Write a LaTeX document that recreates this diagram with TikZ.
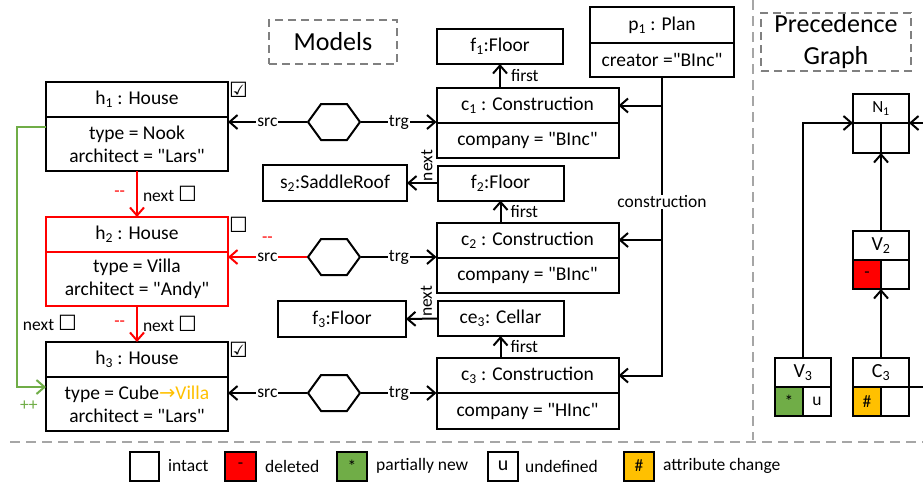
\documentclass[tikz,border=0pt]{standalone}
\usepackage{fontspec}
\setmainfont{Carlito}[Ligatures=TeXOff]
\newfontfamily\symf{DejaVu Sans}
\usetikzlibrary{positioning, shapes.symbols, arrows.meta}
\definecolor{dred}{HTML}{FF0000}
\definecolor{ngreen}{HTML}{70AD47}
\definecolor{chorange}{HTML}{FFC000}
\definecolor{sepgray}{HTML}{A6A6A6}
\definecolor{boxgray}{HTML}{808080}
\newcommand\bxf{\fontsize{19.5pt}{23pt}\selectfont}
\newcommand\lbf{\fontsize{17.5pt}{20pt}\selectfont}
\newcommand\tlf{\fontsize{26pt}{32pt}\selectfont}
\newcommand\pgf{\fontsize{20pt}{22pt}\selectfont}
\newcommand\chk{{\symf\fontsize{21pt}{21pt}\selectfont ☑}}
\newcommand\unchk{{\symf\fontsize{21pt}{21pt}\selectfont ☐}}
\tikzset{%
    cls/.style={draw, line width=2pt, outer sep=0pt, inner sep=0pt, minimum width=182pt, minimum height=35pt, font=\bxf},
    att/.style={cls, minimum height=54pt, align=center},
    obj/.style={cls, minimum width=126pt},
    hexa/.style={draw, line width=2pt, signal, signal to=east and west, signal pointer angle=108, minimum width=52pt, minimum height=36pt, inner sep=0pt},
    lbl/.style={font=\lbf, fill=white, inner sep=1pt},
    arr/.style={line width=2pt, -{Straight Barb[length=8pt,width=14pt]}},
    cell/.style={draw, line width=2pt, outer sep=0pt, inner sep=0pt, minimum width=28pt, minimum height=29pt, font=\lbf},
    ttl/.style={draw=boxgray, line width=1.5pt, dash pattern=on 8pt off 5pt, font=\tlf, align=center, inner sep=0pt},
    sep/.style={draw=sepgray, line width=1.5pt, dash pattern=on 10pt off 6pt}
}
\begin{document}
\begin{tikzpicture}[x=1pt, y=-1pt]
        \useasboundingbox (0,0) rectangle (923,482);

        \node[ttl, minimum width=128pt, minimum height=44pt] (mdl) at (333,42) {Models};
        \node[ttl, minimum width=150pt, minimum height=58pt] (pg) at (836,42) {Precedence\\Graph};

        % houses
        \node[cls] (h1t) at (137,99.5) {h\textsubscript{1} : House};
        \node[att, below=0pt of h1t] (h1a) {type = Nook\\architect = "Lars"};
        \node[cls, draw=dred] (h2t) at (137,234.5) {h\textsubscript{2} : House};
        \node[att, draw=dred, below=0pt of h2t] (h2a) {type = Villa\\architect = "Andy"};
        \node[cls] (h3t) at (137,359.5) {h\textsubscript{3} : House};
        \node[att, below=0pt of h3t] (h3a) {type = Cube{\color{chorange}{\symf →}Villa}\\architect = "Lars"};

        \node[inner sep=0pt] (k1) at (238.5,89.5) {\chk};
        \node[inner sep=0pt] (k2) at (238.5,224.5) {\unchk};
        \node[inner sep=0pt] (k3) at (238.5,349.5) {\chk};

        % constructions
        \node[cls] (c1t) at (527.5,105.5) {c\textsubscript{1} : Construction};
        \node[att, minimum height=35pt, below=0pt of c1t] (c1a) {company = "BInc"};
        \node[cls] (c2t) at (527.5,240) {c\textsubscript{2} : Construction};
        \node[att, minimum height=35pt, below=0pt of c2t] (c2a) {company = "BInc"};
        \node[cls] (c3t) at (527.5,375.5) {c\textsubscript{3} : Construction};
        \node[att, minimum height=36pt, below=0pt of c3t] (c3a) {company = "HInc"};

        \node[cls, minimum width=144pt, minimum height=36pt] (p1t) at (662,25) {p\textsubscript{1} : Plan};
        \node[att, minimum width=144pt, minimum height=34pt, below=0pt of p1t] (p1a) {creator ="BInc"};

        \node[obj] (f1) at (500,46.5) {f\textsubscript{1}:Floor};
        \node[obj] (f2) at (500.5,183) {f\textsubscript{2}:Floor};
        \node[obj] (ce3) at (500.5,318.5) {ce\textsubscript{3}: Cellar};
        \node[obj, minimum width=144pt, minimum height=36pt] (s2) at (335,183) {s\textsubscript{2}:SaddleRoof};
        \node[obj, minimum width=128pt, minimum height=36pt] (f3) at (342,319) {f\textsubscript{3}:Floor};

        % correspondences
        \node[hexa] (x1) at (334,122) {};
        \node[hexa] (x2) at (334,257) {};
        \node[hexa] (x3) at (334,393) {};

        \draw[arr] (x1.west) -- node[lbl]{src} (x1.west -| h1a.east);
        \draw[arr] (x1.east) -- node[lbl]{trg} (x1.east -| c1t.west);
        \draw[arr, draw=dred] (x2.west) -- node[lbl]{src} node[lbl, fill=none, text=dred, above=13pt]{--} (x2.west -| h2a.east);
        \draw[arr] (x2.east) -- node[lbl]{trg} (x2.east -| c2t.west);
        \draw[arr] (x3.west) -- node[lbl]{src} (x3.west -| h3a.east);
        \draw[arr] (x3.east) -- node[lbl]{trg} (x3.east -| c3t.west);

        \draw[arr, draw=dred] (h1a.south) -- node[lbl, fill=none, right=4pt]{next \unchk} node[lbl, fill=none, text=dred, left=10pt]{--} (h2t.north);
        \draw[arr, draw=dred] (h2a.south) -- node[lbl, fill=none, right=4pt]{next \unchk} node[lbl, fill=none, text=dred, left=10pt]{--} (h3t.north);
        \draw[arr, draw=ngreen] ([yshift=-10pt]h1a.north west) -- ++(-29,0) |- node[lbl, fill=none, pos=0.377, right=4pt]{next \unchk} node[lbl, fill=none, text=ngreen, pos=0.5, below right=12pt and 1pt]{++} ([yshift=-10pt]h3a.north west);

        \draw[arr] (f1.south |- c1t.north) -- node[lbl, fill=none, right=9pt]{first} (f1.south);
        \draw[arr] (f2.south |- c2t.north) -- node[lbl, fill=none, right=8pt]{first} (f2.south);
        \draw[arr] (ce3.south |- c3t.north) -- node[lbl, fill=none, right=8pt]{first} (ce3.south);
        \draw[arr] (f2.west) -- node[lbl, fill=none, pos=0.35, rotate=90, anchor=west]{next} (s2.east);
        \draw[arr] (ce3.west) -- node[lbl, fill=none, pos=0.35, rotate=90, anchor=west]{next} (f3.east);

        \draw[arr] (p1a.south) |- (c1t.east);
        \draw[arr] (p1a.south) |- (c2t.east);
        \draw[arr] (p1a.south) |- (c3t.east);
        \node[lbl] (cons) at (p1a.south |- 0,202) {construction};

        % precedence graph
        \node[cell, minimum width=56pt, font=\fontsize{17pt}{17pt}\selectfont] (n1t) at (881,108.5) {N\textsubscript{1}};
        \node[cell, minimum height=30pt, anchor=north west] (n1l) at (n1t.south west) {};
        \node[cell, minimum height=30pt, anchor=north east] (n1r) at (n1t.south east) {};
        \node[cell, minimum width=56pt, font=\pgf] (v2t) at (881,245.5) {V\textsubscript{2}};
        \node[cell, fill=dred, anchor=north west] (v2l) at (v2t.south west) {-};
        \node[cell, anchor=north east] (v2r) at (v2t.south east) {};
        \node[cell, minimum width=56pt, font=\pgf] (v3t) at (803,372.5) {V\textsubscript{3}};
        \node[cell, fill=ngreen, anchor=north west] (v3l) at (v3t.south west) {*};
        \node[cell, anchor=north east] (v3r) at (v3t.south east) {u};
        \node[cell, minimum width=56pt, font=\pgf] (c3pt) at (881,372.5) {C\textsubscript{3}};
        \node[cell, fill=chorange, anchor=north west] (c3pl) at (c3pt.south west) {\#};
        \node[cell, anchor=north east] (c3pr) at (c3pt.south east) {};

        \coordinate (nin) at (930,123);
        \coordinate (cout) at (930,387);
        \draw[arr] (v3t.north) |- (n1l.north west);
        \draw[arr] (nin) -- (n1r.north east);
        \draw[arr] (v2t.north) -- (n1l.south east);
        \draw[arr] (c3pt.north) -- (v2l.south east);
        \draw[line width=2pt] (c3pr.north east) -- (cout);

        % separators
        \draw[sep] (753,0) -- (753,440);
        \draw[sep] (10,442) -- (923,442);

        % legend
        \node[cell, minimum width=29pt] (lg1) at (144.5,466) {};
        \node[font=\lbf, inner sep=0pt, right=9pt of lg1] (lt1) {intact};
        \node[cell, minimum width=31pt, fill=dred] (lg2) at (240.5,466) {-};
        \node[font=\lbf, inner sep=0pt, right=9pt of lg2] (lt2) {deleted};
        \node[cell, minimum width=30pt, fill=ngreen] (lg3) at (352,466) {*};
        \node[font=\lbf, inner sep=0pt, right=9pt of lg3] (lt3) {partially new};
        \node[cell, minimum width=30pt, font=\pgf] (lg4) at (503,466) {u};
        \node[font=\lbf, inner sep=0pt, right=7pt of lg4] (lt4) {undefined};
        \node[cell, minimum width=30pt, fill=chorange] (lg5) at (639,466) {\#};
        \node[font=\lbf, inner sep=0pt, right=9pt of lg5] (lt5) {attribute change};
    \end{tikzpicture}
\end{document}
